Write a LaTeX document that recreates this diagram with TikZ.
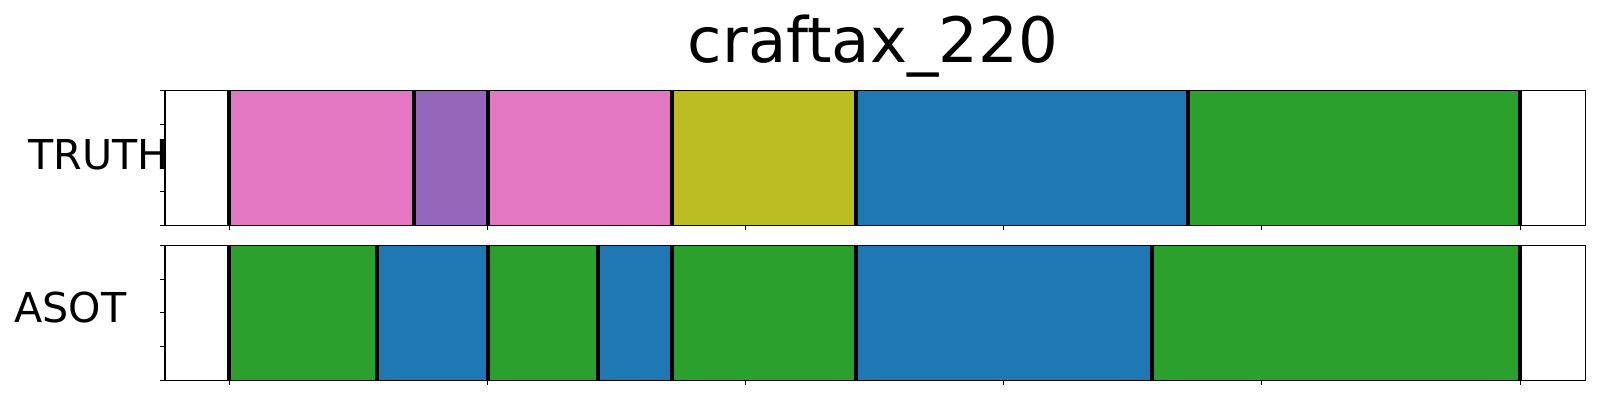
\documentclass[tikz,border=0pt]{standalone}
\usepackage{fontspec}
\setmainfont{DejaVu Sans}
\definecolor{tpink}{HTML}{E377C2}
\definecolor{tpurple}{HTML}{9467BD}
\definecolor{tolive}{HTML}{BCBD22}
\definecolor{tblue}{HTML}{1F77B4}
\definecolor{tgreen}{HTML}{2CA02C}
\tikzset{
  frame/.style={draw=black, line width=0.6pt},
  bound/.style={draw=black, line width=2pt},
  tick/.style={draw=black, line width=0.45pt},
  lbl/.style={inner sep=0pt, font=\fontsize{20.6}{24}\selectfont},
}
\begin{document}
\begin{tikzpicture}[x=0.5pt, y=-0.5pt]
\useasboundingbox (0,0) rectangle (1600,400);
% title
\node[inner sep=0pt, anchor=base, font=\fontsize{31.3}{36}\selectfont] (title) at (873,63) {craftax\_220};
% axis labels
\node[lbl, anchor=base west] (truth) at (28,170) {TRUTH};
\node[lbl, anchor=base west] (asot) at (14,323) {ASOT};
% ---- TRUTH row ----
\def\ta{90.3}\def\tb{225.3}
\fill[tpink]   (229,\ta) rectangle (413.7,\tb);
\fill[tpurple] (413.7,\ta) rectangle (487.7,\tb);
\fill[tpink]   (487.7,\ta) rectangle (672,\tb);
\fill[tolive]  (672,\ta) rectangle (856,\tb);
\fill[tblue]   (856,\ta) rectangle (1187.7,\tb);
\fill[tgreen]  (1187.7,\ta) rectangle (1520,\tb);
\foreach \x in {229,413.7,487.7,672,856,1187.7,1520}
  \draw[bound] (\x,\ta) -- (\x,\tb);
\draw[frame] (165,\ta) rectangle (1585.7,\tb);
\foreach \y in {90.3,124,157.8,191.5,225.3}
  \draw[tick] (165,\y) -- (160,\y);
\foreach \x in {229,487.2,745.4,1003.6,1261.8,1520}
  \draw[tick] (\x,\tb) -- (\x,230.3);
% ---- ASOT row ----
\def\ba{245.3}\def\bb{380.3}
\fill[tgreen] (229,\ba) rectangle (377,\bb);
\fill[tblue]  (377,\ba) rectangle (487.7,\bb);
\fill[tgreen] (487.7,\ba) rectangle (598,\bb);
\fill[tblue]  (598,\ba) rectangle (672,\bb);
\fill[tgreen] (672,\ba) rectangle (856,\bb);
\fill[tblue]  (856,\ba) rectangle (1152,\bb);
\fill[tgreen] (1152,\ba) rectangle (1520,\bb);
\foreach \x in {229,377,487.7,598,672,856,1152,1520}
  \draw[bound] (\x,\ba) -- (\x,\bb);
\draw[frame] (165,\ba) rectangle (1585.7,\bb);
\foreach \y in {245.3,279,312.8,346.5,380.3}
  \draw[tick] (165,\y) -- (160,\y);
\foreach \x in {229,487.2,745.4,1003.6,1261.8,1520}
  \draw[tick] (\x,\bb) -- (\x,385.3);
\end{tikzpicture}
\end{document}
